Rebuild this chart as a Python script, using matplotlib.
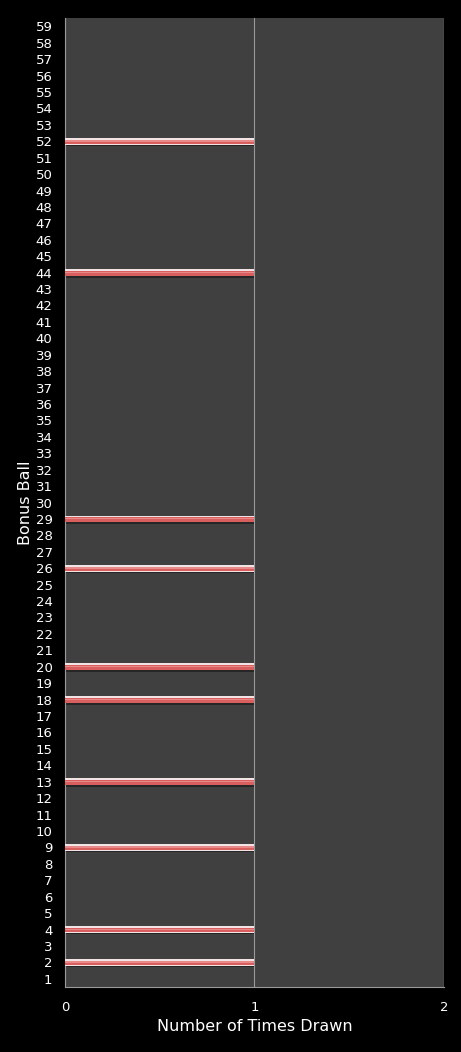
import numpy as np
import matplotlib.pyplot as plt

# bonus ball numbers and how many times each was drawn
balls = list(range(1, 60))
drawn_balls = [2, 4, 9, 13, 18, 20, 26, 29, 44, 52]
counts = [1 if b in drawn_balls else 0 for b in balls]
x_ticks = [0, 1, 2]

fig = plt.figure(figsize=(4.61, 10.52), dpi=100, facecolor='black')
ax = fig.add_axes([0.141, 0.0618, 0.822, 0.921])
ax.set_facecolor('#404040')

y = np.array(balls)
# glossy bars: dark shadow, light rim, red body
ax.barh(y - 0.05, counts, height=0.5, color='#262626', zorder=2)
ax.barh(y, counts, height=0.42, color='#f2e4e4', zorder=3)
ax.barh(y - 0.04, counts, height=0.28, color='#d95f5f', zorder=4)
ax.barh(y + 0.02, counts, height=0.08, color='#e98a8a', zorder=5)

ax.set_xlim(0, 2)
ax.set_ylim(0.5, 59.5)
ax.set_xticks(x_ticks)
ax.set_yticks(balls)
ax.tick_params(colors='white', labelsize=9.5, length=0)
ax.tick_params(axis='x', pad=10)
ax.tick_params(axis='y', pad=9)

ax.grid(axis='x', color='#9a9a9a', linewidth=0.8, zorder=1)
ax.set_axisbelow(True)
for side in ['top', 'right']:
    ax.spines[side].set_visible(False)
ax.spines['left'].set_color('#9a9a9a')
ax.spines['bottom'].set_color('#9a9a9a')
ax.axvline(2, color='#9a9a9a', linewidth=0.8, zorder=1)

ax.set_xlabel('Number of Times Drawn', color='white', fontsize=11.5, labelpad=4)
ax.set_ylabel('Bonus Ball', color='white', fontsize=11.5, labelpad=2)

plt.savefig('out.png', facecolor='black')
